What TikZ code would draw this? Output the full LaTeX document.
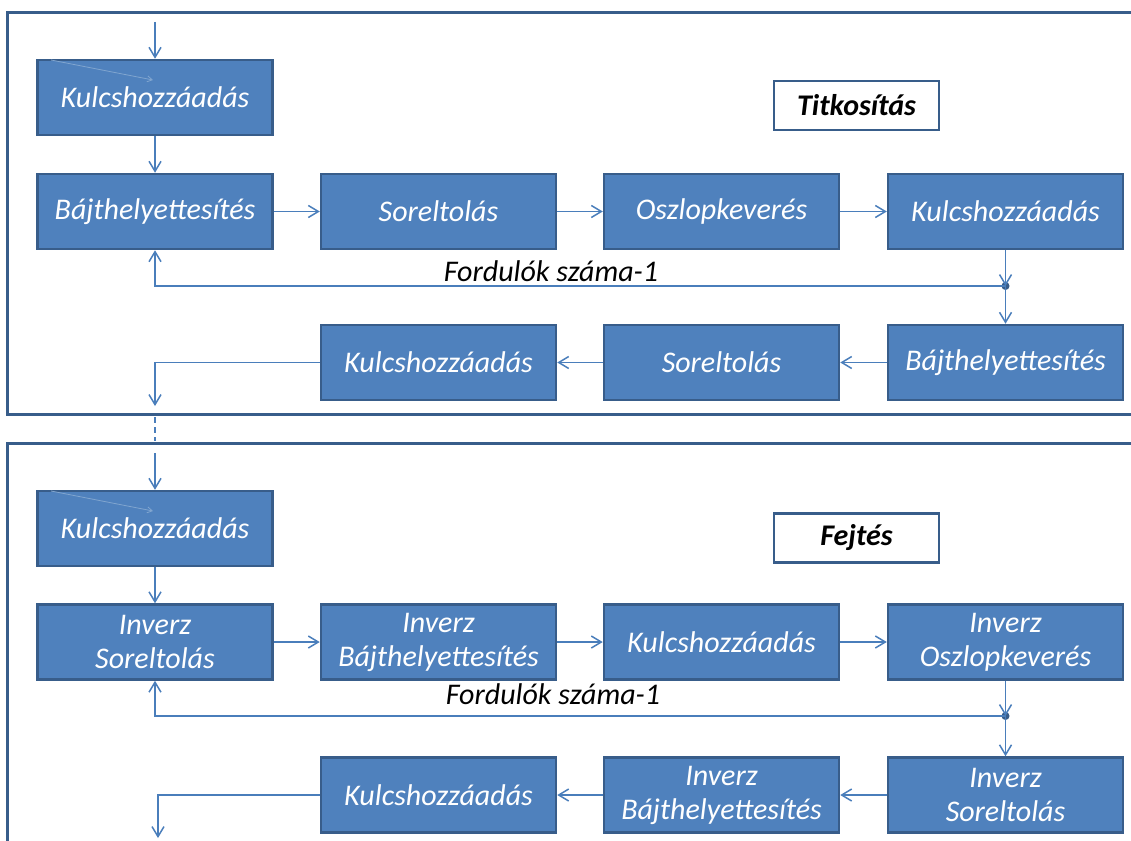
\documentclass[tikz,border=0pt]{standalone}
\usepackage{fontspec}
\setmainfont{Carlito}
\usetikzlibrary{arrows.meta}
\definecolor{boxfill}{HTML}{4F81BD}
\definecolor{boxline}{HTML}{385D8A}
\definecolor{wire}{HTML}{4A7EBB}
\tikzset{
  stage/.style={draw=boxline, line width=2.5pt, fill=boxfill, text=white,
    minimum width=235pt, minimum height=75pt, align=center, inner sep=1pt,
    font=\fontsize{30}{34}\selectfont\itshape},
  title/.style={draw=boxline, line width=2.5pt, fill=white,
    minimum width=165pt, minimum height=49pt,
    font=\fontsize{30}{34}\selectfont\bfseries\itshape},
  arr/.style={draw=wire, line width=1.5pt, -{Straight Barb[length=10pt,width=12pt]}},
  frame/.style={draw=boxline, line width=3pt},
  loop/.style={font=\fontsize{30}{34}\selectfont\itshape}
}
\begin{document}
\begin{tikzpicture}[x=1pt,y=-1pt]
	\useasboundingbox (0,0) rectangle (1131,840);
	% frames
	\draw[frame] (1140,13) -- (7,13) -- (7,414) -- (1140,414);
	\draw[frame] (1140,443) -- (7,443) -- (7,850);
	% encryption
	\node[title] (tit) at (856.5,105.5) {Titkosítás};
	\node[stage] (ka) at (155,97.5) {Kulcshozzáadás};
	\node[stage] (ba) at (155,211.5) {Bájthelyettesítés};
	\node[stage] (sa) at (438.5,211.5) {Soreltolás};
	\node[stage] (oa) at (721.5,211.5) {Oszlopkeverés};
	\node[stage] (kb) at (1005.5,211.5) {Kulcshozzáadás};
	\node[stage] (bb) at (1005.5,362.5) {Bájthelyettesítés};
	\node[stage] (sb) at (721.5,362.5) {Soreltolás};
	\node[stage] (kc) at (438.5,362.5) {Kulcshozzáadás};
	\coordinate (ina) at (155,22);
	\coordinate (outa) at (155,406);
	\fill[boxline] (1005.5,286) circle (4pt) coordinate (dota);
	\draw[arr] (ina) -- (ka);
	\draw[arr] (ka) -- (ba);
	\draw[arr] (ba) -- (sa);
	\draw[arr] (sa) -- (oa);
	\draw[arr] (oa) -- (kb);
	\draw[arr] (kb) -- (dota);
	\draw[arr] (dota) -- (bb);
	\draw[arr] (dota) -| (ba.south);
	\node[loop] (fa) at (551,271) {Fordulók száma-1};
	\draw[arr] (bb) -- (sb);
	\draw[arr] (sb) -- (kc);
	\draw[arr] (kc.west) -| (outa);
	\draw[wire, line width=1.5pt, dash pattern=on 6pt off 4pt] (155,417) -- (155,441);
	\draw[draw=wire!70!white, line width=0.8pt, -{Straight Barb[length=5pt,width=6pt]}] (51,60) -- (153,80);
	% decryption
	\node[title] (fej) at (856.5,538) {Fejtés};
	\node[stage] (kd) at (155,528.5) {Kulcshozzáadás};
	\node[stage] (isa) at (155,642) {Inverz\\Soreltolás};
	\node[stage] (iba) at (438.5,642) {Inverz\\Bájthelyettesítés};
	\node[stage] (ke) at (721.5,642) {Kulcshozzáadás};
	\node[stage] (io) at (1005.5,642) {Inverz\\Oszlopkeverés};
	\node[stage] (isb) at (1005.5,795) {Inverz\\Soreltolás};
	\node[stage] (ibb) at (721.5,795) {Inverz\\Bájthelyettesítés};
	\node[stage] (kf) at (438.5,795) {Kulcshozzáadás};
	\coordinate (inb) at (155,453);
	\coordinate (outb) at (158,838);
	\fill[boxline] (1005.5,716) circle (4pt) coordinate (dotb);
	\draw[arr] (inb) -- (kd);
	\draw[arr] (kd) -- (isa);
	\draw[arr] (isa) -- (iba);
	\draw[arr] (iba) -- (ke);
	\draw[arr] (ke) -- (io);
	\draw[arr] (io) -- (dotb);
	\draw[arr] (dotb) -- (isb);
	\draw[arr] (dotb) -| (isa.south);
	\node[loop] (fb) at (553,694) {Fordulók száma-1};
	\draw[arr] (isb) -- (ibb);
	\draw[arr] (ibb) -- (kf);
	\draw[arr] (kf.west) -| (outb);
	\draw[draw=wire!70!white, line width=0.8pt, -{Straight Barb[length=5pt,width=6pt]}] (51,491) -- (153,511);
\end{tikzpicture}
\end{document}
